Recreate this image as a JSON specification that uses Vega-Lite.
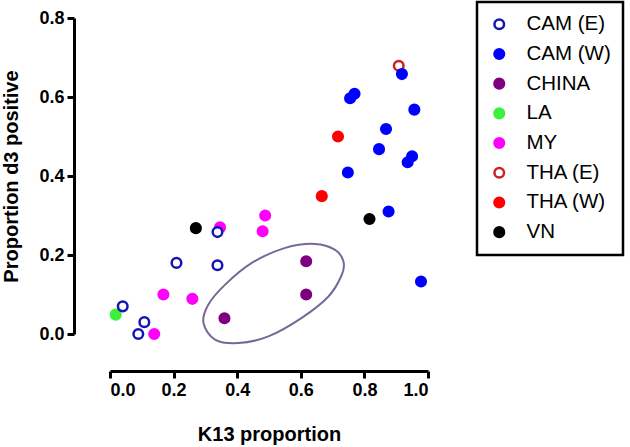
{
  "$schema": "https://vega.github.io/schema/vega-lite/v6.json",
  "autosize": {"type": "none"},
  "width": 318,
  "height": 316,
  "padding": {"left": 110, "top": 18, "right": 202, "bottom": 113},
  "background": "white",
  "datasets": {
    "points": [
      {"group": "VN", "k13": 0.27, "d3": 0.268},
      {"group": "VN", "k13": 0.816, "d3": 0.291},
      {"group": "THA (W)", "k13": 0.717, "d3": 0.5},
      {"group": "THA (W)", "k13": 0.666, "d3": 0.349},
      {"group": "THA (E)", "k13": 0.908, "d3": 0.679},
      {"group": "MY", "k13": 0.168, "d3": 0.1},
      {"group": "MY", "k13": 0.259, "d3": 0.089},
      {"group": "MY", "k13": 0.139, "d3": 0.0},
      {"group": "MY", "k13": 0.346, "d3": 0.27},
      {"group": "MY", "k13": 0.488, "d3": 0.3},
      {"group": "MY", "k13": 0.48, "d3": 0.26},
      {"group": "LA", "k13": 0.018, "d3": 0.049},
      {"group": "CHINA", "k13": 0.617, "d3": 0.184},
      {"group": "CHINA", "k13": 0.617, "d3": 0.1},
      {"group": "CHINA", "k13": 0.36, "d3": 0.04},
      {"group": "CAM (W)", "k13": 0.918, "d3": 0.658},
      {"group": "CAM (W)", "k13": 0.755, "d3": 0.597},
      {"group": "CAM (W)", "k13": 0.769, "d3": 0.608},
      {"group": "CAM (W)", "k13": 0.957, "d3": 0.568},
      {"group": "CAM (W)", "k13": 0.868, "d3": 0.519},
      {"group": "CAM (W)", "k13": 0.846, "d3": 0.468},
      {"group": "CAM (W)", "k13": 0.95, "d3": 0.45},
      {"group": "CAM (W)", "k13": 0.936, "d3": 0.435},
      {"group": "CAM (W)", "k13": 0.748, "d3": 0.409},
      {"group": "CAM (W)", "k13": 0.876, "d3": 0.31},
      {"group": "CAM (W)", "k13": 0.978, "d3": 0.133},
      {"group": "CAM (E)", "k13": 0.04, "d3": 0.07},
      {"group": "CAM (E)", "k13": 0.108, "d3": 0.03},
      {"group": "CAM (E)", "k13": 0.089, "d3": 0.0},
      {"group": "CAM (E)", "k13": 0.209, "d3": 0.18},
      {"group": "CAM (E)", "k13": 0.338, "d3": 0.174},
      {"group": "CAM (E)", "k13": 0.338, "d3": 0.258}
    ],
    "ellipse": [
      {"i": 0, "k13": 0.294, "d3": 0.028},
      {"i": 1, "k13": 0.33, "d3": -0.014},
      {"i": 2, "k13": 0.404, "d3": -0.023},
      {"i": 3, "k13": 0.498, "d3": -0.006},
      {"i": 4, "k13": 0.603, "d3": 0.041},
      {"i": 5, "k13": 0.687, "d3": 0.095},
      {"i": 6, "k13": 0.729, "d3": 0.15},
      {"i": 7, "k13": 0.734, "d3": 0.184},
      {"i": 8, "k13": 0.708, "d3": 0.213},
      {"i": 9, "k13": 0.645, "d3": 0.228},
      {"i": 10, "k13": 0.551, "d3": 0.218},
      {"i": 11, "k13": 0.446, "d3": 0.18},
      {"i": 12, "k13": 0.362, "d3": 0.125},
      {"i": 13, "k13": 0.309, "d3": 0.074}
    ]
  },
  "layer": [
    {
      "data": {"name": "ellipse"},
      "mark": {"type": "line", "interpolate": "cardinal-closed", "stroke": "#76699a", "strokeWidth": 2, "clip": false},
      "encoding": {
        "x": {"field": "k13", "type": "quantitative"},
        "y": {"field": "d3", "type": "quantitative"},
        "order": {"field": "i", "type": "quantitative"}
      }
    },
    {
      "data": {"name": "points"},
      "mark": {"type": "point", "shape": "circle", "size": 92, "strokeWidth": 2.5, "opacity": 1, "fillOpacity": 1, "clip": false},
      "encoding": {
        "x": {
          "field": "k13", "type": "quantitative",
          "scale": {"domain": [0, 1], "nice": false, "zero": false},
          "axis": {"values": [0, 0.2, 0.4, 0.6, 0.8, 1.0], "format": ".1f", "offset": 37, "title": "K13 proportion", "titlePadding": 25}
        },
        "y": {
          "field": "d3", "type": "quantitative",
          "scale": {"domain": [0, 0.8], "nice": false, "zero": false},
          "axis": {"values": [0, 0.2, 0.4, 0.6, 0.8], "format": ".1f", "offset": 36, "title": "Proportion d3 positive", "titlePadding": 17}
        },
        "fill": {
          "field": "group", "type": "nominal",
          "scale": {
            "domain": ["CAM (E)", "CAM (W)", "CHINA", "LA", "MY", "THA (E)", "THA (W)", "VN"],
            "range": ["#ffffff", "#0000ff", "#7f007f", "#3cf03c", "#ff00ff", "#ffffff", "#ff0000", "#000000"]
          },
          "legend": {"title": null}
        },
        "stroke": {
          "field": "group", "type": "nominal",
          "scale": {
            "domain": ["CAM (E)", "CAM (W)", "CHINA", "LA", "MY", "THA (E)", "THA (W)", "VN"],
            "range": ["#1515b5", "#0000ff", "#7f007f", "#3cf03c", "#ff00ff", "#cc2222", "#ff0000", "#000000"]
          },
          "legend": {"title": null}
        }
      }
    }
  ],
  "config": {
    "view": {"stroke": null},
    "font": "Liberation Sans",
    "axis": {
      "grid": false,
      "domainColor": "black",
      "domainWidth": 3,
      "tickColor": "black",
      "tickWidth": 3,
      "tickSize": 7,
      "labelFont": "Liberation Sans",
      "labelFontSize": 18,
      "labelFontWeight": "bold",
      "labelColor": "black",
      "labelPadding": 3,
      "titleFont": "Liberation Sans",
      "titleFontSize": 20,
      "titleFontWeight": "bold",
      "titleColor": "black"
    },
    "legend": {
      "orient": "none",
      "legendX": 367,
      "legendY": -16,
      "strokeColor": "black",
      "strokeWidth": 2.5,
      "fillColor": "white",
      "padding": 12,
      "symbolType": "circle",
      "symbolSize": 92,
      "symbolStrokeWidth": 2.5,
      "labelFont": "Liberation Sans",
      "labelFontSize": 20.5,
      "labelColor": "black",
      "labelOffset": 17,
      "rowPadding": 8.7,
      "symbolOffset": 0
    }
  }
}
